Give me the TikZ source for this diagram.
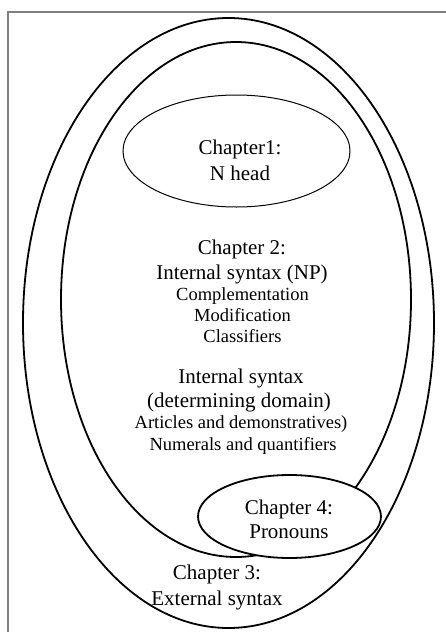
\documentclass[tikz,border=0pt]{standalone}
\usepackage{fontspec}
\setmainfont{Liberation Serif}
\usetikzlibrary{shapes.geometric}

\begin{document}
\begin{tikzpicture}[x=1pt, y=-1pt,
	chapterset/.style={draw, ellipse, line width=1.8pt, inner sep=0pt},
	big/.style={font=\fontsize{21}{25}\selectfont, anchor=base, inner sep=0pt},
	small/.style={font=\fontsize{18.5}{21}\selectfont, anchor=base, inner sep=0pt}]
			\useasboundingbox (0,0) rectangle (446,632);
			\draw[gray, line width=1.2pt] (8,12) rectangle (470,660);
			
			% chapter 2 region and chapter 1 core
			\node[chapterset, minimum width=350, minimum height=515] (ch2) at (236,299.5) {};
			\node[chapterset, line width=1pt, minimum width=227, minimum height=112] (ch1) at (236.5,151) {};
			% chapter 4 sits on top of chapter 2
			\node[chapterset, fill=white, minimum width=183, minimum height=83] (ch4) at (289.5,516.5) {};
			% chapter 3 encloses everything
			\node[chapterset, minimum width=411, minimum height=610] (ch3) at (228.5,323) {};
			
			\node[big] (ch1a) at (240,154) {Chapter1:};
			\node[big] (ch1b) at (240,180) {N head};
			
			\node[big] (ch2a) at (242,254) {Chapter 2:};
			\node[big] (ch2b) at (242,279) {Internal syntax (NP)};
			\node[small] (np1) at (242.5,300) {Complementation};
			\node[small] (np2) at (242.5,321) {Modification};
			\node[small] (np3) at (242.5,342) {Classifiers};
			
			\node[big] (dd1) at (241,383) {Internal syntax};
			\node[big] (dd2) at (239,407) {(determining domain)};
			\node[small] (dd3) at (241,428) {Articles and demonstratives)};
			\node[small] (dd4) at (243,450) {Numerals and quantifiers};
			
			\node[big] (ch4a) at (289,514) {Chapter 4:};
			\node[big] (ch4b) at (289,538) {Pronouns};
			
			\node[big] (ch3a) at (217,579) {Chapter 3:};
			\node[big] (ch3b) at (217,605) {External syntax};
			
\end{tikzpicture}
\end{document}
